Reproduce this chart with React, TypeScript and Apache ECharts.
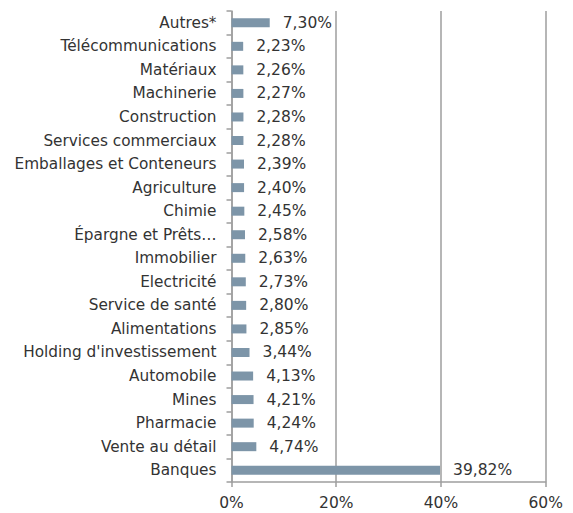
import React, { useEffect, useRef } from "react";
import * as echarts from "echarts";

const categories = [
  "Autres*",
  "Télécommunications",
  "Matériaux",
  "Machinerie",
  "Construction",
  "Services commerciaux",
  "Emballages et Conteneurs",
  "Agriculture",
  "Chimie",
  "Épargne et Prêts…",
  "Immobilier",
  "Electricité",
  "Service de santé",
  "Alimentations",
  "Holding d'investissement",
  "Automobile",
  "Mines",
  "Pharmacie",
  "Vente au détail",
  "Banques",
];

const values = [
  7.3, 2.23, 2.26, 2.27, 2.28, 2.28, 2.39, 2.4, 2.45, 2.58, 2.63, 2.73, 2.8, 2.85,
  3.44, 4.13, 4.21, 4.24, 4.74, 39.82,
];

const xTicks = { min: 0, max: 60, interval: 20 };

const FONT = "'DejaVu Sans', sans-serif";
const TEXT = "#333333";
const AXIS = "#9E9E9E";

export default function App() {
  const ref = useRef<HTMLDivElement>(null);
  useEffect(() => {
    document.body.style.margin = "0";
    if (!ref.current) return;
    const chart = echarts.init(ref.current, null, { renderer: "svg" });
    chart.setOption({
      animation: false,
      backgroundColor: "#ffffff",
      grid: { left: 231.5, right: 27.3, top: 11, bottom: 31, containLabel: false },
      xAxis: {
        type: "value",
        min: xTicks.min,
        max: xTicks.max,
        interval: xTicks.interval,
        axisLine: { show: true, lineStyle: { color: AXIS, width: 1.5 } },
        axisTick: { show: true, length: 5, lineStyle: { color: AXIS, width: 1.5 } },
        splitLine: { show: true, lineStyle: { color: AXIS, width: 1.5 } },
        axisLabel: {
          color: TEXT,
          fontFamily: FONT,
          fontSize: 15.5,
          margin: 13,
          formatter: (v: number) => v + "%",
        },
      },
      yAxis: {
        type: "category",
        inverse: true,
        data: categories,
        axisLine: { show: true, lineStyle: { color: AXIS, width: 1.5 } },
        axisTick: { show: true, length: 5, lineStyle: { color: AXIS, width: 1.5 } },
        axisLabel: {
          color: TEXT,
          fontFamily: FONT,
          fontSize: 15.3,
          margin: 15,
        },
      },
      series: [
        {
          type: "bar",
          data: values,
          barWidth: 9,
          itemStyle: { color: "#7D95A8" },
          label: {
            show: true,
            position: "right",
            distance: 13,
            color: TEXT,
            fontFamily: FONT,
            fontSize: 15.5,
            formatter: (p: any) => p.value.toFixed(2).replace(".", ",") + "%",
          },
        },
      ],
    });
    return () => chart.dispose();
  }, []);
  return <div ref={ref} style={{ width: 573, height: 513 }} />;
}
